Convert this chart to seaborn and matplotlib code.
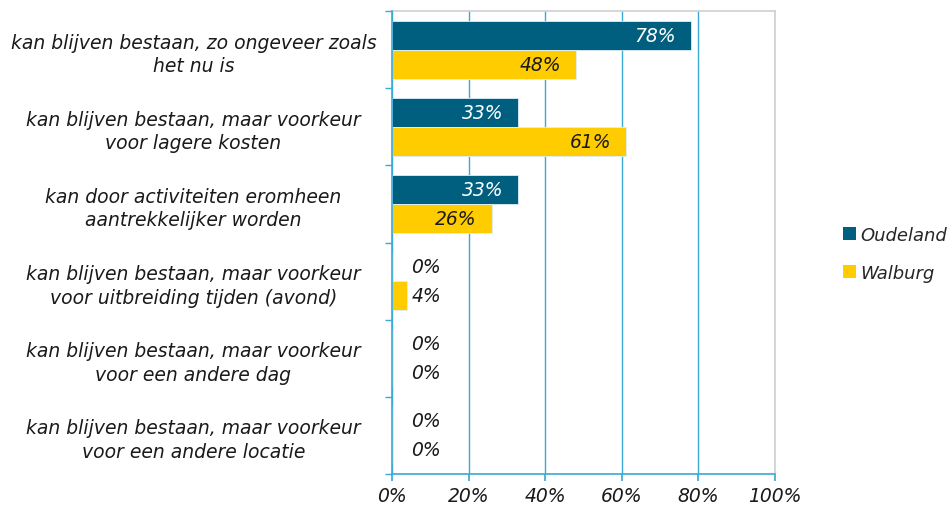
import numpy as np
import pandas as pd
import matplotlib.pyplot as plt
import seaborn as sns
from matplotlib.ticker import FixedLocator, PercentFormatter
from matplotlib.patches import Patch

categories = [
    "kan blijven bestaan, zo ongeveer zoals\nhet nu is",
    "kan blijven bestaan, maar voorkeur\nvoor lagere kosten",
    "kan door activiteiten eromheen\naantrekkelijker worden",
    "kan blijven bestaan, maar voorkeur\nvoor uitbreiding tijden (avond)",
    "kan blijven bestaan, maar voorkeur\nvoor een andere dag",
    "kan blijven bestaan, maar voorkeur\nvoor een andere locatie",
]
oudeland = [78, 33, 33, 0, 0, 0]
walburg = [48, 61, 26, 4, 0, 0]
series = ["Oudeland", "Walburg"]
colors = {"Oudeland": "#005F7F", "Walburg": "#FFCC00"}
label_colors = {"Oudeland": "white", "Walburg": "#1a1a1a"}

df = pd.DataFrame({
    "categorie": categories * 2,
    "waarde": oudeland + walburg,
    "reeks": ["Oudeland"] * len(categories) + ["Walburg"] * len(categories),
})

sns.set_theme(style="white")
plt.rcParams["font.family"] = ["DejaVu Sans"]
plt.rcParams["font.style"] = "italic"

grid_blue = "#3AA9D6"
fs = 13.5
fig = plt.figure(figsize=(9.52, 5.06), dpi=100)
ax = fig.add_axes([392 / 952, 31 / 506, 383 / 952, 463 / 506])

sns.barplot(data=df, y="categorie", x="waarde", hue="reeks", orient="h",
            palette=colors, width=0.75, ax=ax, legend=False, zorder=3,
            saturation=1, linewidth=0.6, edgecolor="#DDEFF7")

# waardelabels
n = len(categories)
for i, name in enumerate(series):
    vals = df[df.reeks == name].waarde.values
    offset = -0.75 / 4 if i == 0 else 0.75 / 4
    for j, v in enumerate(vals):
        ax.text(max(v, 16.6) - 3.8, j + offset, f"{v}%", ha="right", va="center",
                fontsize=fs, fontstyle="italic",
                color=label_colors[name] if v > 10 else "#1a1a1a", zorder=4)

ax.set_xlim(0, 100)
ax.set_ylim(n - 0.5, -0.5)
ax.set_xticks(np.arange(0, 101, 20))
ax.xaxis.set_major_formatter(PercentFormatter(100, decimals=0))
ax.set_xlabel("")
ax.set_ylabel("")
ax.grid(axis="x", color=grid_blue, linewidth=1, zorder=0)
ax.grid(axis="y", visible=False)

ax.yaxis.set_minor_locator(FixedLocator(np.arange(-0.5, n, 1)))
ax.tick_params(axis="y", which="major", length=0, labelsize=fs)
ax.tick_params(axis="y", which="minor", length=5, color=grid_blue, direction="out", left=True)
ax.tick_params(axis="x", which="major", length=5, color=grid_blue, direction="out",
               bottom=True, labelsize=fs, pad=4)
for lab in ax.get_yticklabels():
    lab.set_horizontalalignment("center")
    lab.set_fontstyle("italic")
    lab.set_color("#1a1a1a")
    lab.set_linespacing(1.3)
ax.tick_params(axis="y", which="major", pad=143)
for lab in ax.get_xticklabels():
    lab.set_fontstyle("italic")
    lab.set_color("#1a1a1a")

for side in ["left", "bottom"]:
    ax.spines[side].set_color(grid_blue)
    ax.spines[side].set_linewidth(1.2)
    ax.spines[side].set_zorder(5)
for side in ["top", "right"]:
    ax.spines[side].set_color("#D0D0D0")
    ax.spines[side].set_linewidth(1.2)

handles = [Patch(facecolor=colors[s], edgecolor="none", label=s) for s in series]
fig.legend(handles=handles, loc="center left", bbox_to_anchor=(843 / 952, 1 - 255 / 506),
           frameon=False, handlelength=0.7, handleheight=0.7, borderpad=0,
           borderaxespad=0, handletextpad=0.25, labelspacing=1.1,
           prop={"style": "italic", "size": 13})

fig.savefig("out.png", dpi=100)
